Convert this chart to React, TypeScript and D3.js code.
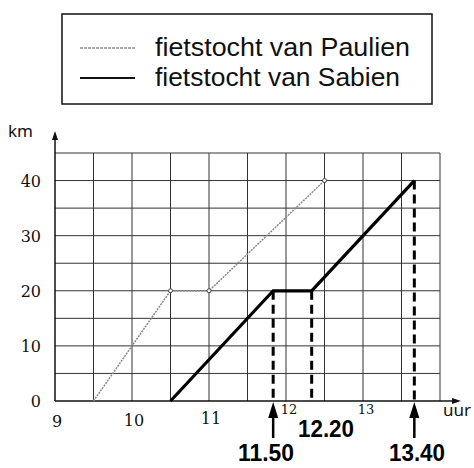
import React from "react";
import * as d3 from "d3";

const hourTicks = [9, 10, 11, 12, 13];
const kmTicks = [0, 10, 20, 30, 40];
const paulienTime = [9.5, 10.5, 11, 12.5];
const paulienKm = [0, 20, 20, 40];
const sabienTime = [10.5, 11 + 50 / 60, 12 + 20 / 60, 13 + 40 / 60];
const sabienKm = [0, 20, 20, 40];
const markLabels = ["11.50", "12.20", "13.40"];
const markTimes = [11 + 50 / 60, 12 + 20 / 60, 13 + 40 / 60];
const markKm = [20, 20, 40];
const legendLabels = ["fietstocht van Paulien", "fietstocht van Sabien"];

export default function App() {
  const W = 474, H = 468;
  const x = d3.scaleLinear().domain([9, 14]).range([55, 440]);
  const y = d3.scaleLinear().domain([0, 45]).range([401, 153]);
  const line = d3.line<[number, number]>().x(d => x(d[0])).y(d => y(d[1]));
  const pData = paulienTime.map((t, i) => [t, paulienKm[i]] as [number, number]);
  const sData = sabienTime.map((t, i) => [t, sabienKm[i]] as [number, number]);
  const vGrid = d3.range(9.5, 14.01, 0.5);
  const hGrid = d3.range(5, 45.01, 5);
  const serif = "'DejaVu Serif', 'Liberation Serif', serif";
  const sans = "'Noto Sans', 'Open Sans', sans-serif";
  const bold = "'Liberation Sans', Arial, sans-serif";
  const markBaselines = [461, 437, 461];
  const markX = [238, 298, 389];
  const markArrow = [true, false, true];
  return (
    <svg width={W} height={H} style={{ position: "absolute", left: 0, top: 0, background: "#fff" }}>
      {/* legend */}
      <rect x={62} y={14} width={370} height={90} fill="none" stroke="#111" strokeWidth={1.5} />
      {legendLabels.map((lab, i) => (
        <g key={lab}>
          <line x1={80} x2={135} y1={48 + i * 30} y2={48 + i * 30}
            stroke={i === 0 ? "#555" : "#111"} strokeWidth={i === 0 ? 1.2 : 2} strokeDasharray={i === 0 ? "3,1" : undefined} />
          <text x={155} y={56 + i * 30} fontFamily={bold} fontSize={25} fill="#111"
            textLength={i === 0 ? 255 : 245} lengthAdjust="spacingAndGlyphs">{lab}</text>
        </g>
      ))}
      {/* grid */}
      {vGrid.map(v => (
        <line key={"v" + v} x1={x(v)} x2={x(v)} y1={y(45)} y2={y(0)} stroke="#333" strokeWidth={1} />
      ))}
      {hGrid.map(v => (
        <line key={"h" + v} x1={x(9)} x2={x(14)} y1={y(v)} y2={y(v)} stroke="#333" strokeWidth={1} />
      ))}
      {/* axes */}
      <line x1={x(9)} x2={x(9)} y1={y(0)} y2={134} stroke="#111" strokeWidth={1.5} />
      <path d={`M${x(9) - 3},${140} L${x(9)},${131} L${x(9) + 3},${140} Z`} fill="#111" />
      <line x1={x(9)} x2={458} y1={y(0)} y2={y(0)} stroke="#111" strokeWidth={1.5} />
      <path d={`M${452},${y(0) - 3} L${461},${y(0)} L${452},${y(0) + 3} Z`} fill="#111" />
      <text x={8} y={137} fontFamily={sans} fontSize={17} fill="#111">km</text>
      <text x={443} y={416} fontFamily={sans} fontSize={17} fill="#111">uur</text>
      {kmTicks.map(k => (
        <text key={"k" + k} x={41} y={y(k) + 6} textAnchor="end" fontFamily={serif} fontSize={16} fill="#111">{k}</text>
      ))}
      {hourTicks.map(h => {
        const small = h >= 12;
        return (
          <text key={"t" + h} x={x(h) + (small ? 3 : 2)} y={small ? 414 : 427 - (h - 9) * 1.5}
            textAnchor="middle" fontFamily={serif} fontSize={small ? 13 : 16} fill="#111">{h}</text>
        );
      })}
      {/* Paulien */}
      <path d={line(pData) || ""} fill="none" stroke="#888" strokeWidth={1.5} strokeDasharray="2,1" />
      {pData.slice(1).map((d, i) => (
        <circle key={"pc" + i} cx={x(d[0])} cy={y(d[1])} r={2} fill="#fff" stroke="#444" strokeWidth={1} />
      ))}
      {/* Sabien */}
      <path d={line(sData) || ""} fill="none" stroke="#000" strokeWidth={3.2} strokeLinejoin="miter" />
      {/* dashed drops */}
      {markTimes.map((t, i) => (
        <line key={"dl" + i} x1={x(t)} x2={x(t)} y1={y(markKm[i])} y2={y(0)} stroke="#000" strokeWidth={3} strokeDasharray="9,5" />
      ))}
      {/* annotations */}
      {markTimes.map((t, i) => (
        <g key={"an" + i}>
          {markArrow[i] && (
            <g>
              <line x1={x(t)} x2={x(t)} y1={y(0) + 14} y2={438} stroke="#000" strokeWidth={2.5} />
              <path d={`M${x(t) - 5},${y(0) + 17} L${x(t)},${y(0) + 1} L${x(t) + 5},${y(0) + 17} Z`} fill="#000" />
            </g>
          )}
          <text x={markX[i]} y={markBaselines[i]}
            fontFamily={bold} fontWeight="bold" fontSize={23} fill="#000"
            textLength={56} lengthAdjust="spacingAndGlyphs">{markLabels[i]}</text>
        </g>
      ))}
    </svg>
  );
}
